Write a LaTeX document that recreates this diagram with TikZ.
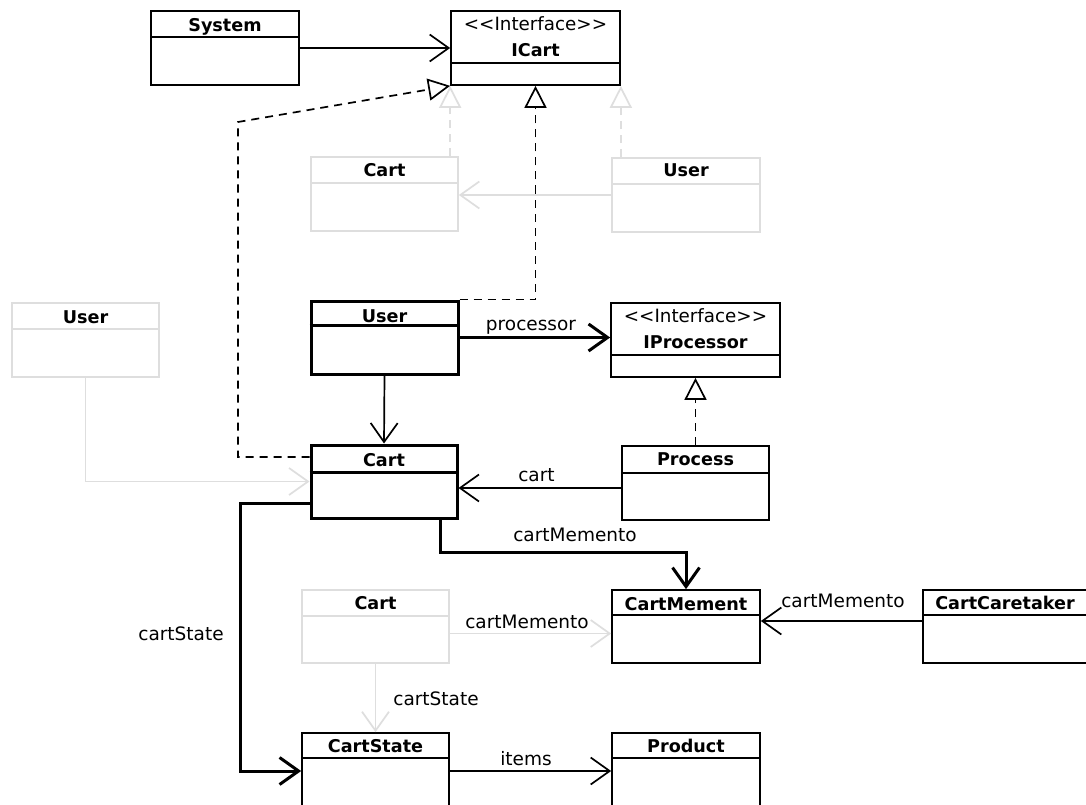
\documentclass[tikz,border=0pt]{standalone}
\usepackage{fontspec}
\setmainfont{DejaVu Sans}
\newfontfamily\stereofont{DejaVu Sans}[Ligatures=TeXOff]
\usetikzlibrary{arrows.meta}

\definecolor{fadegray}{HTML}{DEDEDE}

\tikzset{
  classbox/.style={draw=black, line width=1.7pt, rectangle, inner sep=0pt, fill=white},
  classline/.style={draw=black, line width=1.7pt},
  boldbox/.style={line width=3pt},
  faded/.style={draw=fadegray},
  title/.style={font=\fontsize{17.6}{21}\selectfont\bfseries, anchor=base, inner sep=0pt},
  stereo/.style={font=\stereofont\fontsize{18.3}{22}\selectfont, anchor=base, inner sep=0pt},
  role/.style={font=\fontsize{18.5}{22}\selectfont, anchor=base, inner sep=0pt},
  assoc/.style={draw=black, line width=1.7pt, -{Straight Barb[length=19pt,width=27pt]}},
  strongassoc/.style={assoc, line width=3pt},
  realize/.style={draw=black, line width=1.7pt, dash pattern=on 8pt off 6pt,
    -{Triangle[open,length=22pt,width=22pt,fill=white]}},
}

% class box: [style]{name}{x1}{y1}{x2}{y2}{y of the divider}
\newcommand{\umlclass}[7][]{%
  \pgfmathsetmacro\ucx{(#3+#5)/2}%
  \pgfmathsetmacro\ucy{(#4+#6)/2}%
  \pgfmathsetmacro\ucw{#5-#3}%
  \pgfmathsetmacro\uch{#6-#4}%
  \node[classbox,#1,minimum width=\ucw pt,minimum height=\uch pt] (#2) at (\ucx,\ucy) {};
  \draw[classline,#1] (#2.west |- 0,#7) -- (#2.east |- 0,#7);
}

\begin{document}
\begin{tikzpicture}[x=1pt, y=-1pt]
\clip (0,0) rectangle (1086,805);
\fill[white] (0,0) rectangle (1086,805);

% classes
\umlclass{system}{151}{11}{299}{85}{37}
\umlclass{icart}{451}{11}{620}{85}{63}
\umlclass[faded]{cartA}{311}{157}{458}{231}{183}
\umlclass[faded]{userA}{612}{158}{760}{232}{184}
\umlclass[faded]{userB}{12}{303}{159}{377}{329}
\umlclass[boldbox]{user}{311}{301}{458}{374}{325}
\umlclass{iproc}{611}{303}{780}{377}{355}
\umlclass{process}{622}{446}{769}{520}{473}
\umlclass[boldbox]{cart}{311}{445}{457}{518}{472}
\umlclass[faded]{cartB}{302}{590}{449}{663}{616}
\umlclass{memento}{612}{590}{760}{663}{615}
\umlclass{caretaker}{923}{590}{1100}{663}{615}
\umlclass{cartstate}{302}{733}{449}{809}{758}
\umlclass{product}{612}{733}{760}{809}{758}

% class names
\node[title] (system-t) at (225,32) {System};
\node[stereo] (icart-s) at (535.5,31) {<<Interface>>};
\node[title] (icart-t) at (535.5,57) {ICart};
\node[title] (cartA-t) at (384.5,177) {Cart};
\node[title] (userA-t) at (686,177) {User};
\node[title] (userB-t) at (85.5,323) {User};
\node[title] (user-t) at (384.5,322) {User};
\node[stereo] (iproc-s) at (695.5,322) {<<Interface>>};
\node[title] (iproc-t) at (695.5,348) {IProcessor};
\node[title] (process-t) at (695.5,465) {Process};
\node[title] (cart-t) at (384,466) {Cart};
\node[title] (cartB-t) at (375.5,609) {Cart};
\node[title] (memento-t) at (686,610) {CartMement};
\node[title] (caretaker-t) at (1005,609) {CartCaretaker};
\node[title] (cartstate-t) at (375.5,752) {CartState};
\node[title] (product-t) at (686,752) {Product};

% faded relations
\draw[realize, faded] (cartA.north -| icart.south west) -- (icart.south west);
\draw[realize, faded] (userA.north -| icart.south east) -- (icart.south east);
\draw[assoc, faded] (userA.west) -- (userA.west -| cartA.east);
\draw[assoc, faded] (userB.south) |- (cart.west);
\draw[assoc, faded] ([yshift=-7pt]cartB.east) -- ([yshift=-7pt]cartB.east -| memento.west);
\draw[assoc, faded] (cartB.south) -- (cartB.south |- cartstate.north);

% relations
\draw[assoc] (system.east) -- (system.east -| icart.west);
\draw[realize] (user.north east) -| (icart.south);
\coordinate (rc1) at (238,457);
\coordinate (rc2) at (238,122);
\draw[realize] (cart.west |- rc1) -- (rc1) -- (rc2) -- (icart.south west);
\draw[strongassoc] (user.east) -- (user.east -| iproc.west);
\draw[assoc] (user.south) -- (cart.north);
\draw[realize] (process.north) -- (iproc.south);
\draw[assoc] ([yshift=-5pt]process.west) -- ([yshift=-5pt]process.west -| cart.east);
\coordinate (cm) at (440,552);
\draw[strongassoc] (cart.south -| cm) -- (cm) -| (memento.north);
\coordinate (cs) at (240,503);
\draw[strongassoc] (cart.west |- cs) -- (cs) |- (cartstate.west);
\draw[assoc] ([yshift=5.5pt]caretaker.west) -- ([yshift=5.5pt]caretaker.west -| memento.east);
\draw[assoc] (cartstate.east) -- (product.west);

% role names
\node[role] (l-proc) at (531,330) {processor};
\node[role] (l-cart) at (536.5,481) {cart};
\node[role] (l-cm1) at (575,541) {cartMemento};
\node[role] (l-cm2) at (527,628) {cartMemento};
\node[role] (l-cm3) at (843,607) {cartMemento};
\node[role] (l-cs1) at (181,640) {cartState};
\node[role] (l-cs2) at (436,705) {cartState};
\node[role] (l-items) at (526,765) {items};
\end{tikzpicture}
\end{document}
